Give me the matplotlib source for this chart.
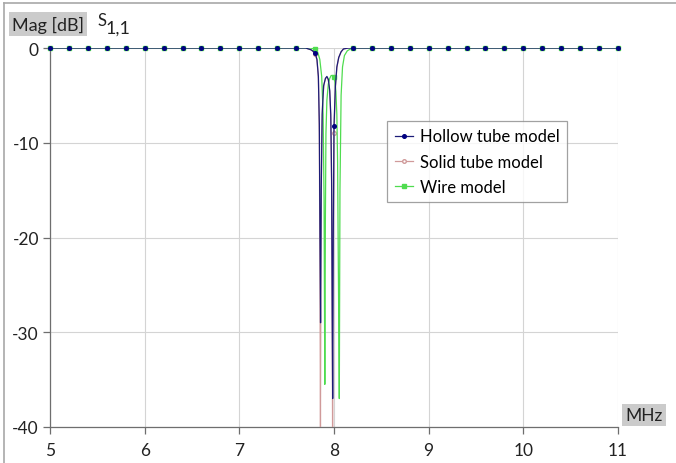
import numpy as np
import matplotlib.pyplot as plt
from matplotlib.lines import Line2D

plt.rcParams["font.family"] = ["Lato", "DejaVu Sans"]
plt.rcParams["axes.unicode_minus"] = False

# sweep data (MHz, dB)
hollow_f = [5.0, 7.70, 7.76, 7.80, 7.82, 7.835, 7.845, 7.852, 7.858, 7.865, 7.875, 7.89,
            7.91, 7.925, 7.94, 7.955, 7.966, 7.975, 7.981, 7.986, 7.992, 8.0, 8.015, 8.03,
            8.05, 8.075, 8.10, 8.15, 11.0]
hollow_m = [0, 0, -0.2, -0.5, -1.2, -3, -8, -20, -29, -15, -7, -4,
            -3.2, -3.0, -3.3, -4.5, -7, -14, -28, -37, -20, -8.2, -4, -2,
            -1, -0.4, -0.1, 0, 0]

solid_f = [5.0, 7.70, 7.76, 7.80, 7.82, 7.835, 7.845, 7.852, 7.857, 7.862, 7.87, 7.88, 7.895,
           7.91, 7.925, 7.94, 7.955, 7.966, 7.975, 7.981, 7.985, 7.99, 8.0, 8.015, 8.03,
           8.05, 8.075, 8.10, 8.15, 11.0]
solid_m = [0, 0, -0.2, -0.6, -1.3, -3.2, -9, -25, -40, -22, -10, -5.5, -3.8,
           -3.2, -3.1, -3.4, -4.6, -7.5, -15, -30, -40, -25, -9, -4.2, -2.1,
           -1, -0.4, -0.1, 0, 0]

wire_f = [5.0, 7.75, 7.80, 7.83, 7.85, 7.87, 7.885, 7.895, 7.903, 7.909, 7.915, 7.925, 7.94,
          7.955, 7.97, 7.985, 8.0, 8.01, 8.02, 8.03, 8.038, 8.045, 8.05, 8.056, 8.063, 8.075,
          8.09, 8.11, 8.14, 8.19, 11.0]
wire_m = [0, 0, -0.1, -0.5, -1.2, -3, -7, -16, -35.5, -18, -9, -5.5, -3.8,
          -3.2, -2.9, -2.9, -3.1, -3.6, -4.6, -7, -12, -22, -28.5, -37, -15, -5,
          -2, -0.8, -0.3, 0, 0]

# marker points, one every 0.2 MHz
mk_f = np.linspace(5.0, 11.0, 31)
hollow_mk = [0] * 14 + [-0.5, -8.2] + [0] * 15
solid_mk = [0] * 14 + [-0.6, -9.0] + [0] * 15
wire_mk = [0] * 14 + [-0.1, -3.1] + [0] * 15

c_hollow = "#1c1c78"
c_solid = "#d09a9a"
c_wire = "#4fdc4f"

fig = plt.figure(figsize=(6.76, 4.64), dpi=100)
ax = fig.add_axes([50 / 676, 1 - 428 / 464, 568 / 676, 379 / 464])

ax.plot(solid_f, solid_m, color=c_solid, lw=0.9, zorder=3)
ax.plot(mk_f, solid_mk, ls="none", marker="o", ms=2.6, mfc="white", mec=c_solid, zorder=3, clip_on=False)
ax.plot(wire_f, wire_m, color=c_wire, lw=0.9, zorder=4)
ax.plot(mk_f, wire_mk, ls="none", marker="s", ms=3, color=c_wire, zorder=4, clip_on=False)
ax.plot(hollow_f, hollow_m, color=c_hollow, lw=0.9, zorder=5)
ax.plot(mk_f, hollow_mk, ls="none", marker="o", ms=2.6, color="#000080", zorder=5, clip_on=False)

ax.set_xlim(5, 11)
ax.set_ylim(-40, 0)
ax.set_xticks(range(5, 12))
ax.set_yticks(range(-40, 1, 10))
ax.grid(True, color="#d4d4d4", lw=0.8)
ax.set_axisbelow(True)
for s in ["top", "right"]:
    ax.spines[s].set_visible(False)
for s in ["left", "bottom"]:
    ax.spines[s].set_color("#6e6e6e")
    ax.spines[s].set_linewidth(0.9)
ax.tick_params(axis="both", colors="#6e6e6e", length=5, width=0.9, labelsize=12.5,
               labelcolor="#222222")
ax.tick_params(axis="x", pad=6)
ax.tick_params(axis="y", pad=3)

handles = [
    Line2D([], [], color=c_hollow, lw=0.9, marker="o", ms=2.6, mfc="#000080", mec="#000080"),
    Line2D([], [], color=c_solid, lw=0.9, marker="o", ms=2.6, mfc="white", mec=c_solid),
    Line2D([], [], color=c_wire, lw=0.9, marker="s", ms=3),
]
leg = ax.legend(handles, ["Hollow tube model", "Solid tube model", "Wire model"],
                loc="upper left", bbox_to_anchor=((387 - 50) / 568, (428 - 122) / 379),
                fontsize=12, frameon=True, fancybox=False, handlelength=1.1,
                handletextpad=0.4, borderpad=0.45, labelspacing=0.55, borderaxespad=0)
leg.get_frame().set_edgecolor("#8a8a8a")
leg.get_frame().set_linewidth(0.9)

box = dict(facecolor="#cbcbcb", edgecolor="none", pad=2.5)
fig.text(12 / 676, 1 - 25 / 464, "Mag [dB]", fontsize=13, va="center", ha="left",
         color="#222222", bbox=box)
fig.text(97 / 676, 1 - 21 / 464, "S", fontsize=12, va="center", ha="left", color="#222222")
fig.text(106 / 676, 1 - 29 / 464, "1,1", fontsize=13, va="center", ha="left", color="#222222")
fig.text(625 / 676, 1 - 416 / 464, "MHz", fontsize=12.5, va="center", ha="left",
         color="#222222", bbox=box)

# outer frame (top and left edges)
fig.add_artist(Line2D([4 / 676, 1], [1 - 4 / 464, 1 - 4 / 464], color="#a8a8a8", lw=1.2))
fig.add_artist(Line2D([4 / 676, 4 / 676], [0, 1 - 4 / 464], color="#a8a8a8", lw=1.2))

fig.savefig("out.png", dpi=100)
